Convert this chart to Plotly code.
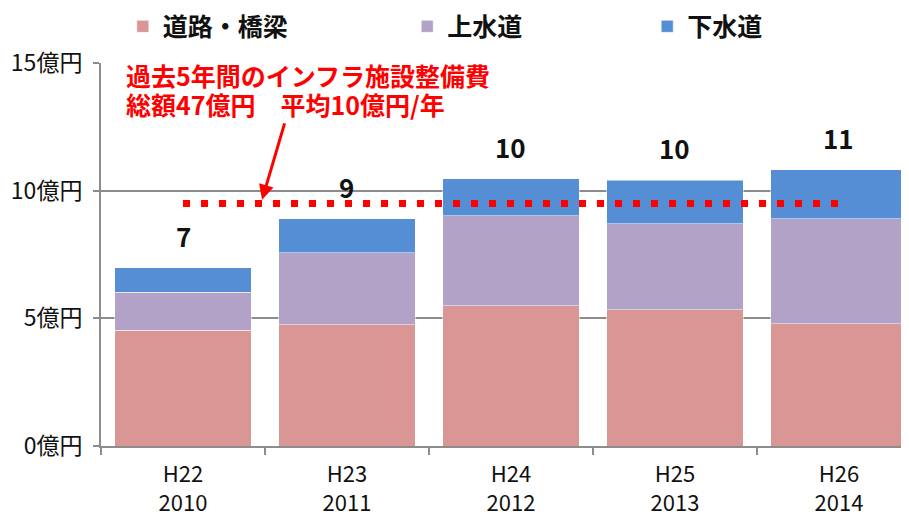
import plotly.graph_objects as go

CATEGORIES = ["H22<br>2010", "H23<br>2011", "H24<br>2012", "H25<br>2013", "H26<br>2014"]
ROADS_BRIDGES = [4.53, 4.74, 5.50, 5.34, 4.79]
WATER_SUPPLY = [1.49, 2.82, 3.52, 3.36, 4.11]
SEWERAGE = [0.96, 1.34, 1.44, 1.71, 1.91]
TOTAL_LABELS = ["7", "9", "10", "10", "11"]
AVERAGE = 9.5
Y_TICKS = [0, 5, 10, 15]
Y_TICK_TEXT = ["0億円", "5億円", "10億円", "15億円"]

FONT = "Noto Sans CJK JP"

series = [
    ("道路・橋梁", ROADS_BRIDGES, "#D99694", "legend", 0.027),
    ("上水道", WATER_SUPPLY, "#B3A2C7", "legend2", 0.379),
    ("下水道", SEWERAGE, "#558ED5", "legend3", 0.676),
]

fig = go.Figure()
for name, values, color, legend_id, _ in series:
    fig.add_trace(
        go.Bar(
            x=CATEGORIES,
            y=values,
            name=name,
            marker=dict(color=color, line=dict(color="rgba(255,255,255,0.5)", width=1)),
            legend=legend_id,
        )
    )

totals = [a + b + c for a, b, c in zip(ROADS_BRIDGES, WATER_SUPPLY, SEWERAGE)]
for cat, total, label in zip(CATEGORIES, totals, TOTAL_LABELS):
    fig.add_annotation(
        x=cat, y=total, text=f"<b>{label}</b>", showarrow=False,
        yanchor="bottom", yshift=12,
        font=dict(family=FONT, size=26, color="#111111"),
    )

# average line
fig.add_trace(
    go.Scatter(
        x=[CATEGORIES[0], CATEGORIES[-1]],
        y=[AVERAGE, AVERAGE],
        mode="lines",
        line=dict(color="#FF0000", width=7, dash="7px,11px"),
        showlegend=False,
        hoverinfo="skip",
    )
)

fig.add_annotation(
    xref="paper", yref="paper", x=0.028, y=1.0,
    text="<b>過去5年間のインフラ施設整備費</b>", showarrow=False,
    xanchor="left", yanchor="middle", yshift=-12,
    font=dict(family=FONT, size=25, color="#FF0000"),
)
fig.add_annotation(
    xref="paper", yref="paper", x=0.028, y=1.0,
    text="<b>総額47億円　平均10億円/年</b>", showarrow=False,
    xanchor="left", yanchor="middle", yshift=-41,
    font=dict(family=FONT, size=25, color="#FF0000"),
)
fig.add_annotation(
    x=0.482, y=9.64, ax=23, ay=-78, text="",
    showarrow=True, arrowhead=2, arrowsize=1, arrowwidth=3, arrowcolor="#FF0000",
)

legend_style = dict(
    orientation="h", yref="paper", y=1.095, yanchor="middle", xanchor="left",
    font=dict(family=FONT, size=25, color="#111111", weight="bold"),
    bgcolor="rgba(0,0,0,0)",
)
fig.update_layout(
    legend=dict(x=series[0][4], **legend_style),
    legend2=dict(x=series[1][4], **legend_style),
    legend3=dict(x=series[2][4], **legend_style),
)

# page body has an 8px margin, so the figure is 8px smaller than the window
fig.update_layout(
    template="plotly_white",
    width=901,
    height=509,
    barmode="stack",
    bargap=0.165,
    margin=dict(l=93, r=0, t=55, b=71, autoexpand=False),
    font=dict(family=FONT, size=22, color="#111111"),
    plot_bgcolor="white",
    paper_bgcolor="white",
)
fig.update_xaxes(
    range=[-0.5, 4.427],
    automargin=False,
    showline=True, linecolor="#8C8C8C", linewidth=2,
    ticks="outside", tickson="boundaries", ticklen=7, tickcolor="#8C8C8C", tickwidth=1.5,
    ticklabelstandoff=8,
    showgrid=False,
    tickfont=dict(family=FONT, size=22, color="#111111"),
)
fig.update_yaxes(
    range=[0, 15],
    automargin=False,
    tickvals=Y_TICKS, ticktext=Y_TICK_TEXT,
    showline=True, linecolor="#8C8C8C", linewidth=2,
    ticks="outside", ticklen=6, tickcolor="#8C8C8C", tickwidth=1.5,
    ticklabelstandoff=6,
    showgrid=True, gridcolor="#8C8C8C", gridwidth=1.5,
    zeroline=False,
    tickfont=dict(family=FONT, size=23, color="#111111"),
)

fig.write_html("out.html")
